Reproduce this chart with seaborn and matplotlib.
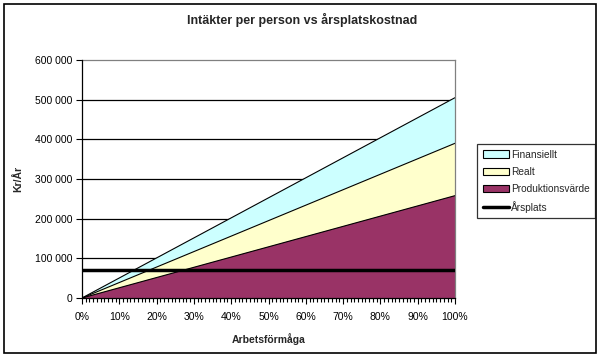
import pandas as pd
import matplotlib
matplotlib.use("Agg")
import matplotlib.pyplot as plt
import seaborn as sns
from matplotlib.patches import Patch, Rectangle
from matplotlib.lines import Line2D
from matplotlib.ticker import MultipleLocator, FuncFormatter

# Data
arbetsformaga = [0.0, 0.1, 0.2, 0.3, 0.4, 0.5, 0.6, 0.7, 0.8, 0.9, 1.0]
produktionsvarde = [0, 25800, 51600, 77400, 103200, 129000, 154800, 180600, 206400, 232200, 258000]
realt = [0, 13200, 26400, 39600, 52800, 66000, 79200, 92400, 105600, 118800, 132000]
finansiellt = [0, 11500, 23000, 34500, 46000, 57500, 69000, 80500, 92000, 103500, 115000]
arsplats = [70000] * len(arbetsformaga)

df = pd.DataFrame({"x": arbetsformaga, "prod": produktionsvarde,
                   "realt": realt, "fin": finansiellt, "ars": arsplats})
df["lvl1"] = df["prod"]
df["lvl2"] = df["prod"] + df["realt"]
df["lvl3"] = df["lvl2"] + df["fin"]

sns.set_theme(style="white")
plt.rcParams["font.family"] = ["Liberation Sans", "DejaVu Sans"]

fig = plt.figure(figsize=(6.05, 3.58), dpi=100)
ax = fig.add_axes([82 / 605, 1 - 298 / 358, (455 - 82) / 605, (298 - 60) / 358])

# Ram runt hela figuren
fig.patches.append(Rectangle((4 / 605, 1 - 353 / 358), 592 / 605, 349 / 358,
                             transform=fig.transFigure, fill=False,
                             edgecolor="black", linewidth=1.2))

# Rutnät
for v in range(100000, 600000, 100000):
    ax.axhline(v, color="black", linewidth=0.9, zorder=0)

colors = {"prod": "#993366", "realt": "#FFFFCC", "fin": "#CCFFFF"}
ax.fill_between(df["x"], df["lvl2"], df["lvl3"], color=colors["fin"], zorder=1)
ax.fill_between(df["x"], df["lvl1"], df["lvl2"], color=colors["realt"], zorder=1)
ax.fill_between(df["x"], 0, df["lvl1"], color=colors["prod"], zorder=1)
for col in ["lvl1", "lvl2", "lvl3"]:
    sns.lineplot(data=df, x="x", y=col, ax=ax, color="black", linewidth=0.8, zorder=2)

sns.lineplot(data=df, x="x", y="ars", ax=ax, color="black", linewidth=2.5, zorder=3)

ax.set_xlim(0, 1)
ax.set_ylim(0, 600000)
ax.xaxis.set_major_locator(MultipleLocator(0.1))
ax.xaxis.set_minor_locator(MultipleLocator(0.01))
ax.xaxis.set_major_formatter(FuncFormatter(lambda v, p: f"{v * 100:.0f}%"))
ax.yaxis.set_major_locator(MultipleLocator(100000))
ax.yaxis.set_major_formatter(FuncFormatter(lambda v, p: f"{int(v):,}".replace(",", " ")))
ax.tick_params(axis="both", which="both", direction="out", labelsize=7.5, colors="black")
ax.tick_params(axis="x", which="major", length=4, width=0.8, pad=6, bottom=True)
ax.tick_params(axis="x", which="minor", length=3, width=0.8, bottom=True)
ax.tick_params(axis="y", which="major", length=4, width=0.8, pad=3, left=True)

for s in ["left", "bottom"]:
    ax.spines[s].set_color("black")
    ax.spines[s].set_linewidth(0.9)
for s in ["top", "right"]:
    ax.spines[s].set_color("#808080")
    ax.spines[s].set_linewidth(0.9)
ax.spines["left"].set_zorder(4)

ax.set_xlabel("Arbetsförmåga", fontsize=7.5, fontweight="bold", labelpad=8)
ax.set_ylabel("Kr/År", fontsize=7.5, fontweight="bold", labelpad=8)
fig.text(0.5, 1 - 20 / 358, "Intäkter per person vs årsplatskostnad",
         ha="center", va="center", fontsize=9, fontweight="bold")

handles = [
    Patch(facecolor=colors["fin"], edgecolor="black", linewidth=0.8, label="Finansiellt"),
    Patch(facecolor=colors["realt"], edgecolor="black", linewidth=0.8, label="Realt"),
    Patch(facecolor=colors["prod"], edgecolor="black", linewidth=0.8, label="Produktionsvärde"),
    Line2D([0], [0], color="black", linewidth=2.5, label="Årsplats"),
]
leg = fig.legend(handles=handles, loc="upper left",
                 bbox_to_anchor=(477 / 605, 1 - 144 / 358),
                 fontsize=7.3, frameon=True, fancybox=False, borderpad=0.55,
                 labelspacing=0.7, handlelength=2.6, handleheight=0.7,
                 handletextpad=0.2, borderaxespad=0)
leg.get_frame().set_edgecolor("black")
leg.get_frame().set_linewidth(0.9)

fig.savefig("out.png", dpi=100)
